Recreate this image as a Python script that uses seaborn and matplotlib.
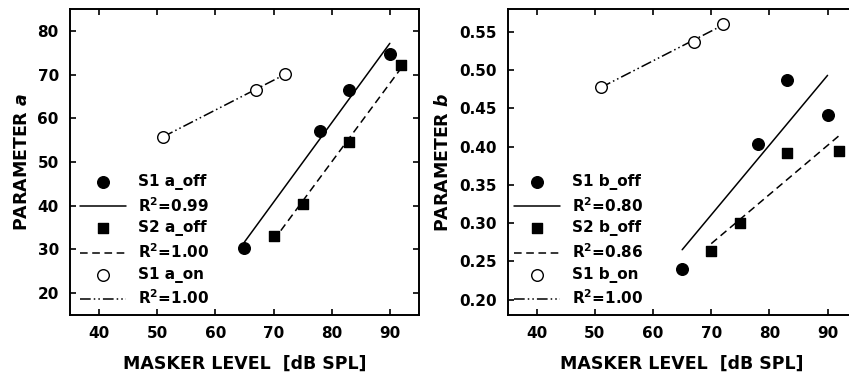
import matplotlib
matplotlib.use("Agg")
import matplotlib.pyplot as plt
import numpy as np
import seaborn as sb
import pandas as pd

# parameter a
s1_a_off_x = [65, 78, 83, 90]
s1_a_off_y = [30.3, 57.0, 66.5, 74.8]
s2_a_off_x = [70, 75, 83, 92]
s2_a_off_y = [33.0, 40.3, 54.5, 72.3]
s1_a_on_x = [51, 67, 72]
s1_a_on_y = [55.8, 66.5, 70.2]
r2_a = ["0.99", "1.00", "1.00"]

# parameter b
s1_b_off_x = [65, 78, 83, 90]
s1_b_off_y = [0.240, 0.403, 0.487, 0.442]
s2_b_off_x = [70, 75, 83, 92]
s2_b_off_y = [0.263, 0.300, 0.392, 0.395]
s1_b_on_x = [51, 67, 72]
s1_b_on_y = [0.478, 0.537, 0.561]
r2_b = ["0.80", "0.86", "1.00"]

x_ticks = [40, 50, 60, 70, 80, 90]
a_ticks = [20, 30, 40, 50, 60, 70, 80]
b_ticks = [0.20, 0.25, 0.30, 0.35, 0.40, 0.45, 0.50, 0.55]

sb.set_style("ticks")
plt.rcParams['font.family'] = ['DejaVu Sans']
plt.rcParams['font.weight'] = 'bold'
plt.rcParams['axes.labelweight'] = 'bold'
plt.rcParams['text.color'] = 'black'
plt.rcParams['axes.labelcolor'] = 'black'
plt.rcParams['xtick.color'] = 'black'
plt.rcParams['ytick.color'] = 'black'
plt.rcParams['mathtext.fontset'] = 'custom'
plt.rcParams['mathtext.rm'] = 'DejaVu Sans:bold'
plt.rcParams['mathtext.it'] = 'DejaVu Sans:italic:bold'
plt.rcParams['mathtext.bf'] = 'DejaVu Sans:bold'

dash_dot_dot = (0, (7, 2, 1, 2, 1, 2))
dashed = (0, (5, 3))


def panel(ax, series, r2, tag, ylabel, ylim, yticks, yfmt, xmax, anchor_x):
    handles = []
    labels = []
    styles = [("o", "black", "-"), ("s", "black", dashed), ("o", "white", dash_dot_dot)]
    names = ["S1 %s_off" % tag, "S2 %s_off" % tag, "S1 %s_on" % tag]
    for (x, y), (m, fc, ls), name, r in zip(series, styles, names, r2):
        t = pd.DataFrame({"x": x, "y": y})
        sb.regplot(data=t, x="x", y="y", ax=ax, ci=None, scatter=False,
                   truncate=True, line_kws={"color": "black", "lw": 1.1, "ls": ls})
        ln = ax.lines[-1]
        sb.scatterplot(data=t, x="x", y="y", ax=ax, marker=m, s=70 if m == "o" else 48,
                       color=fc, edgecolor="black", linewidth=1.0, zorder=3)
        pc = ax.collections[-1]
        handles += [pc, ln]
        labels += [name, "R$^2$=" + r]
    ax.set_xlim(35, xmax)
    ax.set_ylim(*ylim)
    ax.set_xticks(x_ticks)
    ax.set_yticks(yticks)
    ax.set_yticklabels([yfmt % v for v in yticks])
    ax.tick_params(direction="in", length=4, width=1.2, top=True, right=True,
                   labelsize=11, pad=8)
    for lab in ax.get_xticklabels() + ax.get_yticklabels():
        lab.set_fontweight("bold")
    for s in ax.spines.values():
        s.set_linewidth(1.4)
        s.set_color("black")
    ax.set_xlabel("MASKER LEVEL  [dB SPL]", fontsize=12.5, fontweight="bold")
    # keep the label centred on the 35-95 span
    ax.xaxis.set_label_coords(0.5 * 60 / (xmax - 35), -0.13)
    ax.set_ylabel(ylabel, fontsize=12.5, fontweight="bold", labelpad=5)
    ax.legend(handles, labels, loc="lower left", bbox_to_anchor=(anchor_x, 0.01),
              frameon=False, fontsize=11, handlelength=3.0, handletextpad=0.8,
              labelspacing=0.38, borderaxespad=0.0, borderpad=0.3)


fig = plt.figure(figsize=(8.49, 3.79), dpi=100)
ax1 = fig.add_axes([0.0824, 0.169, 0.411, 0.807])
# right panel runs past the right edge of the picture, as in the source
ax2 = fig.add_axes([0.598, 0.169, 0.411 * 62 / 60, 0.807])

panel(ax1, [(s1_a_off_x, s1_a_off_y), (s2_a_off_x, s2_a_off_y), (s1_a_on_x, s1_a_on_y)],
      r2_a, "a", "PARAMETER $a$", (15, 85), a_ticks, "%d", 95, 0.015)
panel(ax2, [(s1_b_off_x, s1_b_off_y), (s2_b_off_x, s2_b_off_y), (s1_b_on_x, s1_b_on_y)],
      r2_b, "b", "PARAMETER $b$", (0.18, 0.58), b_ticks, "%.2f", 97, 0.005)

fig.savefig("out.png", dpi=100)
